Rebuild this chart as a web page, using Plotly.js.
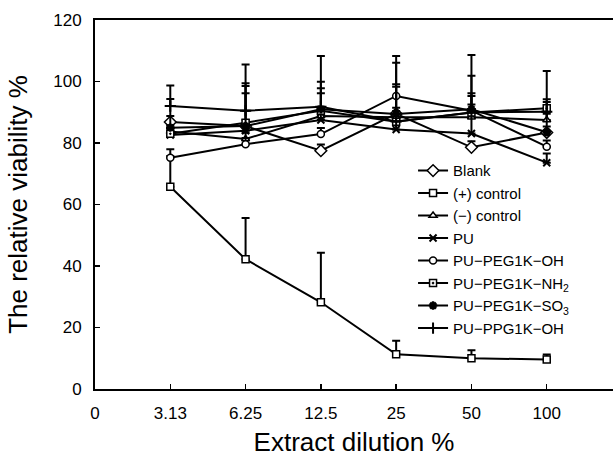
<!DOCTYPE html>
<html>
<head>
<meta charset="utf-8">
<script src="https://cdn.plot.ly/plotly-3.0.1.min.js"></script>
<style>html,body{margin:0;padding:0;background:#fff;}</style>
</head>
<body>
<div id="chart" style="width:613px;height:460px;"></div>
<script>
// Category positions and tick labels
const tickPositions = [0, 1, 2, 3, 4, 5, 6];
const tickLabels = ["0", "3.13", "6.25", "12.5", "25", "50", "100"];
const dilutions = [1, 2, 3, 4, 5, 6]; // 3.13, 6.25, 12.5, 25, 50, 100

// Relative viability (%) per series
const blank      = [86.8, 85.5, 77.5, 89.5, 78.6, 83.4];
const posControl = [65.8, 42.2, 28.2, 11.3, 10.0, 9.6];
const negControl = [83.7, 81.3, 88.8, 88.4, 88.4, 87.5];
const pu         = [82.6, 84.0, 87.5, 84.4, 83.1, 73.6];
const puOH       = [75.2, 79.6, 82.9, 95.3, 90.5, 78.8];
const puNH2      = [83.0, 86.6, 90.5, 86.9, 89.9, 91.3];
const puSO3      = [85.0, 85.5, 91.0, 89.4, 91.0, 83.5];
const puPPG      = [92.0, 90.5, 91.8, 87.0, 89.9, 90.2];

// Upper error (SD)
const blankErr      = [2, 2, 2, 2, 2, 2];
const posControlErr = [10, 13.4, 16.1, 4.4, 2.6, 1.6];
const negControlErr = [2, 2, 2, 2, 2, 2];
const puErr         = [2, 12.2, 8.7, 3, 12.2, 3];
const puOHErr       = [2.8, 2, 2, 3, 2, 2];
const puNH2Err      = [2, 11.9, 7.3, 12.2, 6.3, 2];
const puSO3Err      = [9.3, 13.9, 8.9, 16.7, 10.9, 10.7];
const puPPGErr      = [6.7, 15.0, 16.5, 21.3, 18.7, 13.2];

const names = ["Blank", "(+) control", "(−) control", "PU", "PU−PEG1K−OH",
               "PU−PEG1K−NH<sub>2</sub>", "PU−PEG1K−SO<sub>3</sub>", "PU−PPG1K−OH"];

function series(name, y, err, symbol, fill, size, lw) {
  return {
    type: "scatter", mode: "lines+markers", name: name,
    x: dilutions, y: y,
    line: {color: "#000", width: 2},
    marker: {symbol: symbol, color: fill, size: size, line: {color: "#000", width: lw}},
    error_y: {type: "data", symmetric: false, array: err, arrayminus: err.map(() => 0),
              color: "#000", thickness: 2, width: 4},
    cliponaxis: false
  };
}

const data = [
  series(names[0], blank, blankErr, "diamond", "#fff", 9, 1.5),
  series(names[1], posControl, posControlErr, "square", "#fff", 7, 1.5),
  series(names[2], negControl, negControlErr, "triangle-up", "#fff", 7, 1.5),
  series(names[3], pu, puErr, "x-thin", "#000", 7, 2),
  series(names[4], puOH, puOHErr, "circle", "#fff", 7, 1.5),
  series(names[5], puNH2, puNH2Err, "square-dot", "#fff", 7, 1.5),
  series(names[6], puSO3, puSO3Err, "asterisk", "#000", 7, 2.5),
  series(names[7], puPPG, puPPGErr, "cross-thin", "#000", 8, 2)
];

const font = {family: "Liberation Sans, Arial, sans-serif", color: "#000"};

const layout = {
  width: 613, height: 460,
  margin: {l: 95, r: 0, t: 20, b: 71},
  paper_bgcolor: "#fff", plot_bgcolor: "#fff",
  font: Object.assign({size: 17}, font),
  showlegend: true,
  legend: {
    x: 0.614, y: 0.636, xanchor: "left", yanchor: "top",
    bgcolor: "rgba(0,0,0,0)", borderwidth: 0,
    font: Object.assign({size: 15}, font),
    tracegroupgap: 0, itemwidth: 30
  },
  xaxis: {
    range: [0, 6.88], tickvals: tickPositions, ticktext: tickLabels,
    ticks: "inside", ticklen: 5, tickwidth: 1.5, tickcolor: "#000",
    showline: true, linecolor: "#000", linewidth: 2, mirror: true,
    showgrid: false, zeroline: false, ticklabelstandoff: 8,
    tickfont: Object.assign({size: 17}, font),
    title: {text: "Extract dilution %", font: Object.assign({size: 26}, font), standoff: 10}
  },
  yaxis: {
    range: [0, 120], tickvals: [0, 20, 40, 60, 80, 100, 120],
    ticks: "inside", ticklen: 5, tickwidth: 1.5, tickcolor: "#000",
    showline: true, linecolor: "#000", linewidth: 2,
    showgrid: false, zeroline: false, ticklabelstandoff: 8,
    tickfont: Object.assign({size: 17}, font),
    title: {text: "The relative viability %", font: Object.assign({size: 26}, font), standoff: 18}
  }
};

Plotly.newPlot("chart", data, layout, {staticPlot: true, displayModeBar: false});
</script>
</body>
</html>
